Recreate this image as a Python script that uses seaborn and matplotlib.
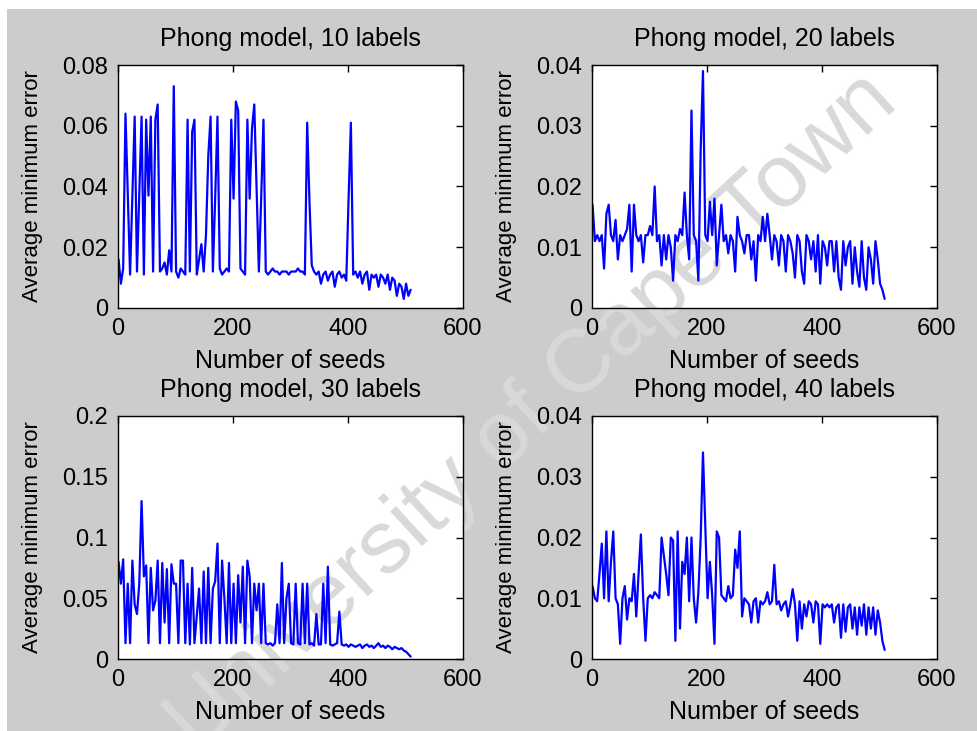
import numpy as np
import pandas as pd
import matplotlib.pyplot as plt
import seaborn as sns
from matplotlib.patches import Rectangle

# seeds sampled every 4th run
seeds = np.arange(1, 513, 4)

err_10 = [
    0.016, 0.008, 0.013, 0.064, 0.037, 0.011, 0.037, 0.063,
    0.012, 0.037, 0.063, 0.011, 0.062, 0.037, 0.063, 0.012,
    0.062, 0.067, 0.012, 0.013, 0.015, 0.011, 0.019, 0.012,
    0.073, 0.012, 0.010, 0.013, 0.012, 0.011, 0.062, 0.012,
    0.058, 0.062, 0.011, 0.016, 0.021, 0.012, 0.024, 0.050,
    0.063, 0.012, 0.036, 0.063, 0.013, 0.011, 0.012, 0.013,
    0.012, 0.062, 0.036, 0.068, 0.065, 0.013, 0.012, 0.011,
    0.062, 0.036, 0.059, 0.067, 0.039, 0.012, 0.036, 0.062,
    0.012, 0.011, 0.012, 0.013, 0.012, 0.012, 0.011, 0.012,
    0.012, 0.012, 0.011, 0.012, 0.012, 0.012, 0.013, 0.012,
    0.012, 0.011, 0.061, 0.035, 0.014, 0.012, 0.011, 0.012,
    0.008, 0.011, 0.012, 0.009, 0.011, 0.012, 0.007, 0.011,
    0.012, 0.010, 0.011, 0.009, 0.036, 0.061, 0.011, 0.012,
    0.010, 0.012, 0.008, 0.011, 0.012, 0.006, 0.011, 0.010,
    0.011, 0.007, 0.011, 0.010, 0.008, 0.011, 0.006, 0.010,
    0.009, 0.004, 0.008, 0.007, 0.003, 0.008, 0.004, 0.006,
]

err_20 = [
    0.017, 0.011, 0.012, 0.011, 0.012, 0.0065, 0.0155, 0.017,
    0.012, 0.011, 0.0145, 0.008, 0.012, 0.011, 0.012, 0.013,
    0.017, 0.006, 0.017, 0.012, 0.011, 0.012, 0.0075, 0.012,
    0.012, 0.0135, 0.012, 0.020, 0.011, 0.012, 0.007, 0.012,
    0.008, 0.012, 0.010, 0.0045, 0.012, 0.011, 0.013, 0.012,
    0.019, 0.012, 0.008, 0.0325, 0.012, 0.011, 0.0045, 0.026,
    0.039, 0.012, 0.011, 0.0175, 0.012, 0.018, 0.007, 0.012,
    0.017, 0.011, 0.012, 0.009, 0.012, 0.011, 0.006, 0.015,
    0.012, 0.011, 0.009, 0.012, 0.012, 0.008, 0.011, 0.0045,
    0.012, 0.011, 0.015, 0.011, 0.0155, 0.012, 0.008, 0.012,
    0.011, 0.007, 0.012, 0.011, 0.006, 0.012, 0.011, 0.009,
    0.005, 0.012, 0.011, 0.006, 0.004, 0.012, 0.011, 0.008,
    0.011, 0.006, 0.012, 0.004, 0.011, 0.010, 0.007, 0.011,
    0.011, 0.006, 0.011, 0.005, 0.003, 0.011, 0.007, 0.010,
    0.011, 0.004, 0.010, 0.006, 0.0035, 0.011, 0.005, 0.003,
    0.010, 0.008, 0.004, 0.011, 0.008, 0.004, 0.003, 0.0015,
]

err_30 = [
    0.080, 0.062, 0.082, 0.013, 0.062, 0.013, 0.081, 0.045,
    0.037, 0.062, 0.130, 0.068, 0.077, 0.013, 0.075, 0.040,
    0.048, 0.081, 0.013, 0.079, 0.030, 0.074, 0.013, 0.078,
    0.062, 0.062, 0.013, 0.081, 0.081, 0.013, 0.062, 0.012,
    0.075, 0.013, 0.035, 0.058, 0.013, 0.072, 0.013, 0.075,
    0.013, 0.058, 0.064, 0.095, 0.013, 0.081, 0.050, 0.013,
    0.079, 0.013, 0.062, 0.013, 0.069, 0.030, 0.076, 0.013,
    0.081, 0.068, 0.013, 0.062, 0.040, 0.062, 0.013, 0.062,
    0.013, 0.012, 0.013, 0.011, 0.013, 0.045, 0.013, 0.079,
    0.013, 0.050, 0.062, 0.013, 0.012, 0.062, 0.013, 0.012,
    0.062, 0.013, 0.062, 0.012, 0.013, 0.011, 0.037, 0.012,
    0.012, 0.062, 0.013, 0.076, 0.012, 0.011, 0.012, 0.013,
    0.039, 0.012, 0.011, 0.012, 0.010, 0.012, 0.011, 0.010,
    0.011, 0.012, 0.009, 0.011, 0.012, 0.010, 0.011, 0.009,
    0.011, 0.013, 0.010, 0.011, 0.009, 0.011, 0.010, 0.008,
    0.010, 0.009, 0.008, 0.009, 0.007, 0.006, 0.004, 0.002,
]

err_40 = [
    0.012, 0.010, 0.0095, 0.014, 0.019, 0.010, 0.021, 0.0095,
    0.016, 0.021, 0.010, 0.009, 0.0025, 0.010, 0.012, 0.0065,
    0.010, 0.0095, 0.014, 0.007, 0.014, 0.0205, 0.010, 0.003,
    0.010, 0.0105, 0.010, 0.011, 0.0105, 0.010, 0.020, 0.017,
    0.014, 0.0105, 0.020, 0.0195, 0.003, 0.021, 0.005, 0.016,
    0.014, 0.020, 0.0095, 0.020, 0.010, 0.006, 0.011, 0.020,
    0.034, 0.022, 0.010, 0.016, 0.0105, 0.0025, 0.021, 0.020,
    0.0105, 0.010, 0.0095, 0.012, 0.010, 0.0105, 0.018, 0.015,
    0.021, 0.007, 0.010, 0.0095, 0.009, 0.006, 0.0095, 0.010,
    0.006, 0.0095, 0.009, 0.0095, 0.011, 0.009, 0.0095, 0.0155,
    0.009, 0.0095, 0.008, 0.009, 0.0095, 0.007, 0.009, 0.0115,
    0.009, 0.003, 0.0095, 0.005, 0.009, 0.007, 0.0095, 0.009,
    0.006, 0.0095, 0.009, 0.0025, 0.009, 0.0085, 0.009, 0.0085,
    0.009, 0.006, 0.0085, 0.009, 0.0035, 0.009, 0.0045, 0.0085,
    0.009, 0.005, 0.0085, 0.004, 0.0085, 0.0055, 0.009, 0.004,
    0.0085, 0.005, 0.0085, 0.004, 0.008, 0.006, 0.003, 0.0015,
]

titles = ["Phong model, 10 labels", "Phong model, 20 labels",
          "Phong model, 30 labels", "Phong model, 40 labels"]
series = [err_10, err_20, err_30, err_40]
y_max = [0.08, 0.04, 0.2, 0.04]
y_step = [0.02, 0.01, 0.05, 0.01]
x_ticks = [0, 200, 400, 600]

sns.set_style("white")
plt.rcParams['font.family'] = ['Liberation Sans', 'DejaVu Sans']
plt.rcParams['text.color'] = 'black'
plt.rcParams['axes.labelcolor'] = 'black'

W, H = 978, 731
fig = plt.figure(figsize=(W / 100, H / 100), dpi=100, facecolor="white")
fig.patches.append(Rectangle((7 / W, 0), 1, 1 - 9 / H, transform=fig.transFigure,
                             facecolor="#cccccc", edgecolor="none", zorder=-5))

# axes boxes in pixels: left, top
boxes = [(118, 65), (592, 65), (118, 416), (592, 416)]
aw, ah = 345, 243

for i in range(4):
    left, top = boxes[i]
    rect = [left / W, 1 - (top + ah) / H, aw / W, ah / H]
    # white plot area behind the watermark, axes itself transparent
    fig.patches.append(Rectangle(rect[:2], rect[2], rect[3], transform=fig.transFigure,
                                 facecolor="white", edgecolor="none", zorder=-3))
    ax = fig.add_axes(rect)
    ax.patch.set_alpha(0)
    df = pd.DataFrame({"seeds": seeds, "error": series[i]})
    sns.lineplot(data=df, x="seeds", y="error", ax=ax, color="#0000ff",
                 linewidth=1.6, estimator=None, sort=False)
    ax.set_xlim(0, 600)
    ax.set_ylim(0, y_max[i])
    ax.set_xticks(x_ticks)
    yt = np.round(np.arange(0, y_max[i] + 1e-9, y_step[i]), 3)
    ax.set_yticks(yt)
    ax.set_yticklabels([f"{v:g}" for v in yt])
    ax.tick_params(direction="in", top=True, right=True, length=5, width=1,
                   labelsize=17, pad=7, colors="black")
    for sp in ax.spines.values():
        sp.set_color("black")
        sp.set_linewidth(1)
    ax.set_title(titles[i], fontsize=18, pad=14)
    ax.set_xlabel("Number of seeds", fontsize=18, labelpad=7)
    ax.set_ylabel("Average minimum error", fontsize=16, labelpad=14)

fig.text(0.545, 0.435, "University of Cape Town", rotation=42.7, fontsize=64,
         color="#d9d9d9", ha="center", va="center",
         rotation_mode="anchor", zorder=-1)

fig.savefig("out.png", dpi=100, facecolor=fig.get_facecolor())
